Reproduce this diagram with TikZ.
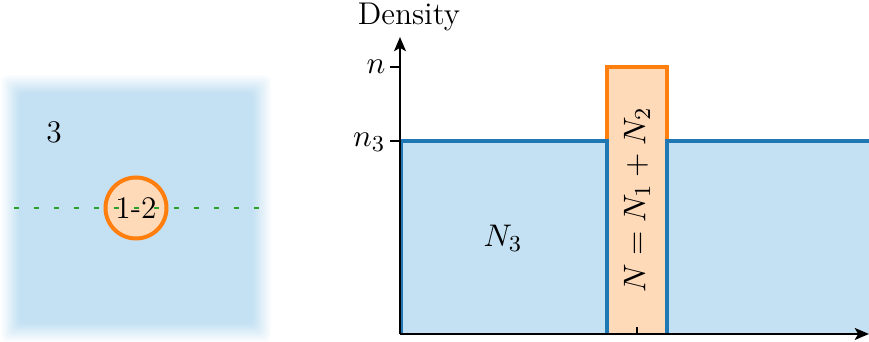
\documentclass[tikz,border=0pt]{standalone}
\usetikzlibrary{arrows.meta}
\definecolor{bluefill}{RGB}{196,225,243}
\definecolor{blueline}{RGB}{31,119,180}
\definecolor{orangeline}{RGB}{255,127,14}
\definecolor{orangefill}{RGB}{254,218,185}
\definecolor{greenline}{RGB}{44,160,44}
\tikzset{
  axis/.style={line width=0.7pt, black, -{Stealth[length=5pt,width=4.2pt,inset=1.2pt]}},
  bluebound/.style={line width=1.2pt, blueline},
  orangebound/.style={line width=1.2pt, orangeline},
  lbl/.style={inner sep=0pt, font=\fontsize{11}{13}\selectfont},
}
\begin{document}
\begin{tikzpicture}[x=0.35pt,y=-0.35pt]
\useasboundingbox (0,0) rectangle (869,342);
% blurred square
\foreach \i in {0,...,18}{
  \pgfmathsetmacro{\d}{9-\i}
  \pgfmathsetmacro{\p}{100*(\i+1)/19}
  \fill[bluefill!\p!white, rounded corners=2pt] (10-\d,84-\d) rectangle (262+\d,333+\d);
}
\node[lbl] (three) at (54,132) {3};
\node[circle, draw=orangeline, fill=orangefill, line width=1.4pt, minimum size=61*0.35pt, inner sep=0pt] (c12) at (136,208) {};
\coordinate (gl) at (14,208);
\coordinate (gr) at (262,208);
\draw[greenline, line width=0.8pt, dash pattern=on 1.75pt off 5.25pt] (gl) -- (gr);
\node[lbl] at (c12) {1-2};
% right plot
\coordinate (O) at (400,334);
\coordinate (ytop) at (400,37);
\coordinate (xend) at (869,334);
\fill[bluefill] (400,141) rectangle (869,334);
\fill[orangefill] (607,67) rectangle (667,334);
\draw[orangebound] (607,141) -- (607,67) -- (667,67) -- (667,141);
\draw[bluebound] (401.5,334) -- (401.5,141) -- (607,141) -- (607,334);
\draw[bluebound] (667,334) -- (667,141) -- (869,141);
\node[lbl, rotate=90] (N) at (637,200) {$N=N_1+N_2$};
\node[lbl] (N3) at (503,238) {$N_3$};
\draw[axis] (O) -- (ytop);
\draw[axis] (O) -- (xend);
\draw[line width=0.7pt] (390,67) -- (400,67);
\draw[line width=0.7pt] (390,141) -- (400,141);
\draw[line width=0.7pt] (637,327) -- (637,334);
\node[lbl, anchor=east] (nlab) at (386,67) {$n$};
\node[lbl, anchor=east] (n3lab) at (386,142) {$n_3$};
\node[lbl] (dens) at (409,17) {Density};
\end{tikzpicture}
\end{document}
